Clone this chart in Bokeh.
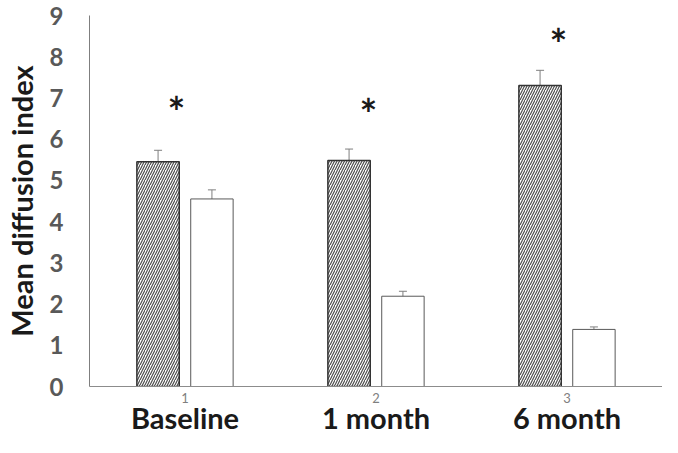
from bokeh.plotting import figure
from bokeh.models import ColumnDataSource, Whisker, LinearAxis, FixedTicker, Range1d, TeeHead
from bokeh.core.properties import value
from bokeh.embed import file_html
from bokeh.resources import INLINE

# ---- data ----
groups = [1, 2, 3]
group_labels = ["Baseline", "1 month", "6 month"]
hatched_means = [5.45, 5.48, 7.30]
hatched_err = [0.28, 0.28, 0.37]
white_means = [4.55, 2.19, 1.385]
white_err = [0.22, 0.12, 0.06]
star_x = [0.955, 1.96, 2.955]
star_y = [6.67, 6.60, 8.32]
y_ticks = [0, 1, 2, 3, 4, 5, 6, 7, 8, 9]

FONT = "Lato"
OFF = 0.141
BW = 0.222

src_h = ColumnDataSource(dict(
    x=[g - OFF for g in groups], top=hatched_means,
    upper=[m + e for m, e in zip(hatched_means, hatched_err)],
    lower=[m - e for m, e in zip(hatched_means, hatched_err)]))
src_w = ColumnDataSource(dict(
    x=[g + OFF for g in groups], top=white_means,
    upper=[m + e for m, e in zip(white_means, white_err)],
    lower=[m - e for m, e in zip(white_means, white_err)]))
src_s = ColumnDataSource(dict(x=star_x, y=star_y, t=["*"] * len(star_x)))

p = figure(width=662, height=437, output_backend="svg", toolbar_location=None,
           x_range=Range1d(0.5, 3.5), y_range=Range1d(0, 9),
           min_border_left=75, min_border_top=15, min_border_right=0,
           min_border_bottom=0,
           x_axis_location=None, y_axis_location=None)
p.grid.visible = False
p.outline_line_color = None
p.background_fill_color = "white"
p.border_fill_color = "white"

p.vbar(x="x", top="top", width=BW, bottom=0, source=src_h,
       fill_color="white", line_color="#333333", line_width=1.5,
       hatch_pattern="right_diagonal_line", hatch_color="#4d4d4d",
       hatch_scale=5, hatch_weight=1.2)
p.vbar(x="x", top="top", width=BW, bottom=0, source=src_w,
       fill_color="white", line_color="#595959", line_width=1)

for src in (src_h, src_w):
    w = Whisker(base="x", upper="upper", lower="lower", source=src,
                line_color="#7f7f7f", line_width=1,
                upper_head=TeeHead(size=8, line_color="#7f7f7f", line_width=1),
                lower_head=None)
    p.add_layout(w)

p.text(x="x", y="y", text="t", source=src_s, text_font=value(FONT),
       text_font_size="42px", text_font_style="bold", text_color="#1a1a1a",
       text_align="center", text_baseline="middle")

# y axis
ya = LinearAxis(ticker=FixedTicker(ticks=y_ticks))
ya.axis_label = "Mean diffusion index"
ya.axis_label_text_font = FONT
ya.axis_label_text_font_size = "29px"
ya.axis_label_text_font_style = "bold"
ya.axis_label_text_color = "#1a1a1a"
ya.axis_label_standoff = 8
ya.major_label_text_font = FONT
ya.major_label_text_font_size = "24px"
ya.major_label_text_font_style = "bold"
ya.major_label_text_color = "#595959"
ya.major_label_standoff = 20
ya.major_tick_line_color = None
ya.minor_tick_line_color = None
ya.axis_line_color = "#7f7f7f"
p.add_layout(ya, "left")

# x axis with small numeric ticks
xa = LinearAxis(ticker=FixedTicker(ticks=groups))
xa.major_label_text_font = FONT
xa.major_label_text_font_size = "13px"
xa.major_label_text_color = "#7f7f7f"
xa.major_label_standoff = 6
xa.major_tick_line_color = None
xa.major_tick_out = 0
xa.minor_tick_line_color = None
xa.axis_line_color = "#8c8c8c"
p.add_layout(xa, "below")

# category labels axis
xb = LinearAxis(ticker=FixedTicker(ticks=groups),
                major_label_overrides={g: l for g, l in zip(groups, group_labels)})
xb.major_label_text_font = FONT
xb.major_label_text_font_size = "29px"
xb.major_label_text_font_style = "bold"
xb.major_label_text_color = "#1a1a1a"
xb.major_label_standoff = -6
xb.major_tick_line_color = None
xb.major_tick_out = 0
xb.minor_tick_line_color = None
xb.axis_line_color = None
p.add_layout(xb, "below")

open("out.html", "w").write(file_html(p, INLINE))
